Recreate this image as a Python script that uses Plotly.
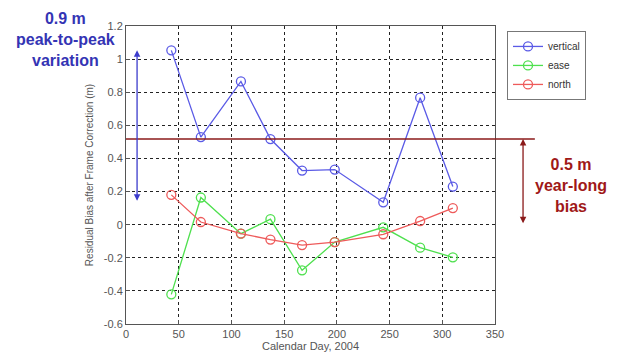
import plotly.graph_objects as go

days = [43, 71, 109, 137, 167, 198, 244, 279, 310]
vertical = [1.053, 0.529, 0.865, 0.517, 0.327, 0.333, 0.135, 0.767, 0.23]
ease = [-0.421, 0.164, -0.054, 0.033, -0.276, -0.105, -0.016, -0.139, -0.197]
north = [0.18, 0.016, -0.054, -0.09, -0.123, -0.105, -0.058, 0.022, 0.10]
bias_level = 0.517
x_ticks = [0, 50, 100, 150, 200, 250, 300, 350]
y_ticks = [-0.6, -0.4, -0.2, 0, 0.2, 0.4, 0.6, 0.8, 1.0, 1.2]
y_tick_text = ["-0.6", "-0.4", "-0.2", "0", "0.2", "0.4", "0.6", "0.8", "1", "1.2"]

fig = go.Figure()
for name, vals, col in [("vertical", vertical, "#5a5ae6"),
                        ("ease", ease, "#4ee04e"),
                        ("north", north, "#ee5a5a")]:
    fig.add_trace(go.Scatter(
        x=days, y=vals, name=name, mode="lines+markers",
        line=dict(color=col, width=1.3),
        marker=dict(symbol="circle-open", size=9, color=col, line=dict(width=1.3, color=col)),
    ))

# horizontal bias line
fig.add_shape(type="line", xref="paper", yref="y", x0=0, x1=1.108,
              y0=bias_level, y1=bias_level, line=dict(color="#8b1a1a", width=1.5))

# left blue arrow (peak-to-peak)
fig.add_annotation(x=10.5, y=max(vertical), ax=10.5, ay=min(vertical),
                   xref="x", yref="y", axref="x", ayref="y",
                   showarrow=True, arrowhead=2, startarrowhead=2, arrowside="end+start",
                   arrowsize=1, arrowwidth=1.3, arrowcolor="#3c3ccc", text="")
# right red arrow (year-long bias)
fig.add_annotation(x=1.076, y=bias_level, ax=1.076, ay=0,
                   xref="x domain", yref="y", axref="x domain", ayref="y",
                   showarrow=True, arrowhead=2, startarrowhead=2, arrowside="end+start",
                   arrowsize=1, arrowwidth=1.3, arrowcolor="#8b1a1a", text="")

fig.add_annotation(text="<b>0.9 m<br>peak-to-peak<br>variation</b>", xref="paper", yref="paper",
                   x=(65 - 126) / 369, y=(362 - 40 - 34) / 302, showarrow=False,
                   font=dict(family="Arial", size=16, color="#3434b4"),
                   xanchor="center", yanchor="middle", align="center")
fig.add_annotation(text="<b>0.5 m<br>year-long<br>bias</b>", xref="paper", yref="paper",
                   x=(571 - 126) / 369, y=(362 - 188 - 34) / 302, showarrow=False,
                   font=dict(family="Arial", size=16, color="#a01818"),
                   xanchor="center", yanchor="middle", align="center")

fig.update_layout(
    width=625, height=362,
    margin=dict(l=126, r=130, t=26, b=34),
    paper_bgcolor="white", plot_bgcolor="white",
    font=dict(family="Arial", size=11, color="#555"),
    showlegend=True,
    legend=dict(x=(507 - 126) / 369, y=(362 - 31 - 34) / 302, xanchor="left", yanchor="top",
                bordercolor="#777", borderwidth=1, bgcolor="white",
                font=dict(family="Arial", size=10, color="#333"),
                itemwidth=30, tracegroupgap=0),
    xaxis=dict(range=[0, 350], tickvals=x_ticks, showline=True, mirror=True,
               linecolor="#555", linewidth=1, ticks="inside", ticklen=4, tickcolor="#555",
               showgrid=True, gridcolor="#222", griddash="3px,3px", gridwidth=1,
               zeroline=False,
               title=dict(text="Calendar Day, 2004", font=dict(size=11, color="#555"), standoff=2)),
    yaxis=dict(range=[-0.6, 1.2], tickvals=y_ticks, ticktext=y_tick_text, showline=True, mirror=True,
               linecolor="#555", linewidth=1, ticks="inside", ticklen=4, tickcolor="#555",
               showgrid=True, gridcolor="#222", griddash="3px,3px", gridwidth=1,
               zeroline=False,
               title=dict(text="Residual Bias after Frame Correction (m)", font=dict(size=10, color="#555"), standoff=8)),
)

fig.write_html("out.html")
